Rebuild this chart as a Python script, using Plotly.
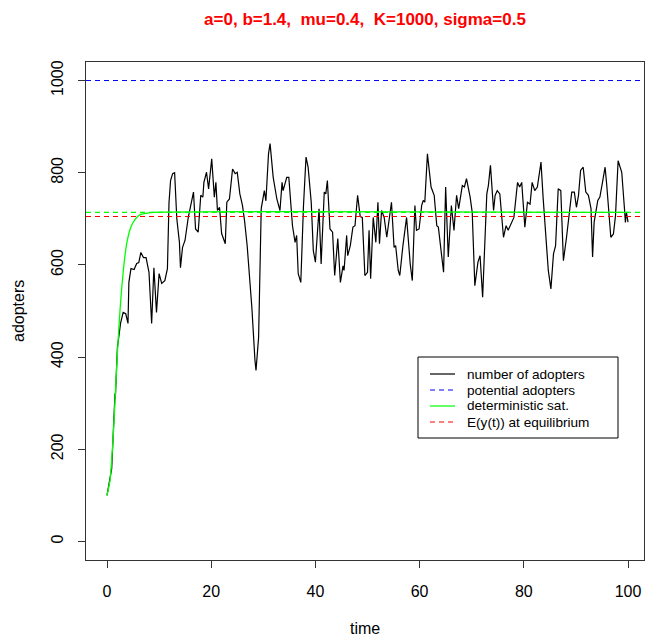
import plotly.graph_objects as go

# Simulated number of adopters over time (stochastic Bass / logistic model)
time_obs = [
    0, 0.9, 1.54, 1.6, 2.0, 2.6, 3.1, 3.6, 4.03, 4.2, 4.6, 5.2, 5.7, 6.1, 6.5, 7.0, 7.5,
    8.06, 8.57, 9.0, 9.5, 10.0, 10.5, 11.1, 11.6, 11.9, 12.2, 12.6, 12.98, 13.4, 13.9,
    14.1, 14.5, 14.97, 15.6, 16.6, 17.0, 17.5, 18.0, 18.4, 18.6, 19.1, 19.5, 20.1, 20.6,
    20.9, 21.2, 21.6, 22.0, 22.7, 23.0, 23.5, 24.1, 24.6, 25.0, 25.5, 26.0, 26.4, 26.9,
    27.3, 27.8, 28.4, 28.6, 29.1, 29.6, 30.2, 30.5, 31.0, 31.3, 31.9, 32.6, 33.2, 33.6,
    33.8, 34.5, 34.9, 35.6, 36.1, 36.4, 36.7, 37.2, 37.7, 38.2, 38.6, 39.2, 39.6, 40.0,
    40.7, 41.1, 41.7, 42.0, 42.3, 42.8, 43.3, 43.7, 44.3, 44.8, 45.3, 45.5, 46.0, 46.2,
    46.7, 47.2, 47.6, 48.1, 48.6, 49.0, 49.5, 50.0, 50.3, 50.6, 51.1, 51.6, 52.0, 52.3,
    52.7, 53.2, 53.7, 54.2, 54.6, 55.1, 55.4, 55.9, 56.2, 56.8, 57.5, 58.2, 58.6, 59.1,
    59.4, 59.9, 60.4, 60.7, 61.0, 61.5, 62.2, 62.8, 63.3, 63.6, 63.9, 64.6, 65.0, 65.5,
    66.1, 66.6, 67.1, 67.5, 68.2, 68.6, 69.0, 69.7, 70.1, 70.6, 71.2, 71.6, 72.1, 72.6,
    72.9, 73.2, 73.6, 74.2, 74.5, 74.9, 75.4, 76.1, 76.6, 77.0, 77.4, 78.1, 78.8, 79.2,
    79.6, 80.2, 80.7, 81.2, 81.6, 82.1, 82.6, 82.9, 83.3, 83.7, 84.2, 84.7, 85.2, 85.7,
    86.1, 86.6, 87.1, 87.6, 88.2, 88.7, 89.2, 89.7, 90.1, 90.5, 90.9, 91.4, 91.9, 92.4,
    92.9, 93.2, 93.5, 94.2, 94.6, 95.1, 95.6, 95.9, 96.2, 96.7, 97.2, 97.6, 98.1, 98.8,
    99.3, 99.5, 99.7, 100.0,
]
adopters = [
    100, 158, 321, 310, 421, 473, 497, 494, 473, 562, 592, 590, 603, 605, 627, 616, 616,
    584, 473, 594, 497, 581, 560, 566, 592, 735, 783, 798, 800, 700, 649,
    594, 638, 653, 703, 758, 678, 671, 751, 747, 779, 801, 765, 830, 747,
    779, 718, 725, 668, 646, 736, 743, 808, 798, 801, 754, 729, 696, 642,
    588, 508, 393, 371, 443, 722, 761, 739, 841, 863, 790, 743, 718, 779,
    761, 790, 790, 685, 649, 664, 581, 562, 725, 834, 812, 736, 631, 606,
    722, 602, 758, 754, 783, 678, 671, 577, 657, 562, 598, 588, 664, 620,
    642, 682, 685, 751, 705, 703, 577, 584, 675, 570, 703, 649, 736, 646,
    718, 703, 660, 703, 736, 638, 642, 588, 577, 642, 703, 602, 566, 729,
    675, 678, 729, 740, 736, 841, 769, 751, 685, 682, 653, 584, 769, 617,
    729, 675, 751, 722, 772, 769, 787, 747, 714, 555, 606, 620, 530, 689,
    754, 772, 816, 718, 751, 761, 754, 660, 685, 675, 685, 703, 779, 769,
    779, 682, 736, 732, 779, 761, 769, 797, 823, 747, 667, 588, 548, 624,
    642, 765, 761, 609, 660, 703, 758, 758, 725, 751, 805, 812, 758, 751,
    722, 617, 693, 740, 747, 779, 812, 776, 725, 660, 667, 707, 826, 801,
    725, 692, 714, 693,
]

# Deterministic saturation curve
time_det = [0, 0.57, 0.9, 1.22, 1.54, 1.86, 2.18, 2.5, 2.82, 3.14, 3.46, 3.78, 4.29,
            4.73, 5.37, 6.0, 6.65, 7.6, 8.9, 100]
det_sat = [100, 132, 176, 234, 306, 379, 444, 502, 549, 588, 621, 646, 672,
           686, 698, 706, 710, 712, 714, 714]

# Reference levels
potential_adopters = 1000
det_equilibrium = 714
mean_equilibrium = 705

x_ticks = [0, 20, 40, 60, 80, 100]
y_ticks = [0, 200, 400, 600, 800, 1000]

legend_labels = ["number of adopters", "potential adopters",
                 "deterministic sat.", "E(y(t)) at equilibrium"]
legend_colors = ["#000000", "#0000FF", "#00FF00", "#FF0000"]
legend_dash = ["solid", "5px,4px", "solid", "5px,4px"]

FONT = "Liberation Sans, Arial, sans-serif"
W, H = 645, 642
L, R, T, B = 86, 1, 62, 82
PW, PH = W - L - R, H - T - B


def fx(px):
    return (px - L) / PW


def fy(py):
    return (H - B - py) / PH


fig = go.Figure()

fig.add_trace(go.Scatter(x=time_obs, y=adopters, mode="lines",
                         line=dict(color="#000000", width=1.2),
                         showlegend=False, hoverinfo="skip"))

fig.add_hline(y=potential_adopters, line=dict(color="#0000FF", width=1, dash="5px,4px"))
fig.add_hline(y=det_equilibrium, line=dict(color="#00FF00", width=1.2, dash="5px,4px"))

fig.add_trace(go.Scatter(x=time_det, y=det_sat, mode="lines",
                         line=dict(color="#00FF00", width=1.3, shape="spline", smoothing=0.6),
                         showlegend=False, hoverinfo="skip"))

fig.add_hline(y=mean_equilibrium, line=dict(color="#FF0000", width=1.2, dash="5px,4px"))

# Legend box drawn in the lower right of the plot area
shapes = [dict(type="rect", xref="paper", yref="paper",
               x0=fx(418), x1=fx(618), y0=fy(438), y1=fy(357),
               line=dict(color="#000000", width=1), fillcolor="white", layer="above")]
annotations = []
row_y = [374, 390, 406, 422]
for lab, col, dsh, ry in zip(legend_labels, legend_colors, legend_dash, row_y):
    shapes.append(dict(type="line", xref="paper", yref="paper",
                       x0=fx(430), x1=fx(455), y0=fy(ry), y1=fy(ry),
                       line=dict(color=col, width=1.2, dash=dsh), layer="above"))
    annotations.append(dict(text=lab, xref="paper", yref="paper", x=fx(465), y=fy(ry),
                            xanchor="left", yanchor="middle", showarrow=False,
                            font=dict(family=FONT, size=13.6, color="#000000")))

# Axis titles
annotations.append(dict(text="time", xref="paper", yref="paper", x=0.5, y=fy(628),
                        xanchor="center", yanchor="middle", showarrow=False,
                        font=dict(family=FONT, size=16, color="#000000")))
annotations.append(dict(text="adopters", xref="paper", yref="paper", x=fx(18), y=0.5,
                        xanchor="center", yanchor="middle", showarrow=False, textangle=-90,
                        font=dict(family=FONT, size=16, color="#000000")))

for s in shapes:
    fig.add_shape(**s)

fig.update_layout(
    width=W, height=H,
    margin=dict(l=L, r=R, t=T, b=B),
    paper_bgcolor="white", plot_bgcolor="white",
    showlegend=False,
    title=dict(text="a=0, b=1.4,  mu=0.4,  K=1000, sigma=0.5",
               x=0.5, xref="paper", xanchor="center",
               y=1 - 19 / H, yref="container", yanchor="middle",
               font=dict(family=FONT, size=17, color="#FF0000", weight="bold")),
    annotations=annotations,
    xaxis=dict(range=[-4.03, 103.07], tickvals=x_ticks, ticks="outside", ticklen=7,
               tickcolor="#333333", showline=True, mirror=True, linecolor="#333333",
               linewidth=1, showgrid=False, zeroline=False, ticklabelstandoff=10,
               tickfont=dict(family=FONT, size=16, color="#000000")),
    yaxis=dict(range=[-40.2, 1040.2], tickvals=y_ticks, ticks="outside", ticklen=7,
               tickcolor="#333333", showline=True, mirror=True, linecolor="#333333",
               linewidth=1, showgrid=False, zeroline=False, tickangle=-90,
               ticklabelstandoff=9,
               tickfont=dict(family=FONT, size=16, color="#000000")),
)

fig.write_html("out.html")
